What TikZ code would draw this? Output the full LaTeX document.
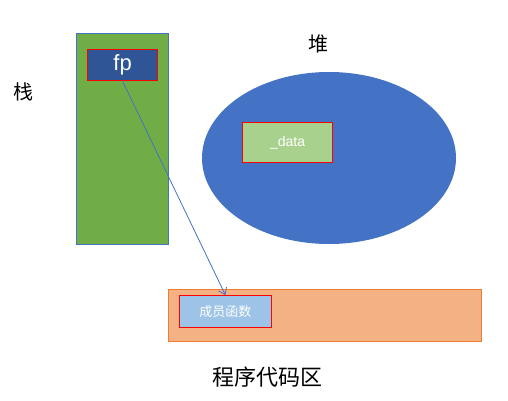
\documentclass[tikz,border=0pt]{standalone}
\usepackage{fontspec}
\setmainfont{Liberation Sans}
\newfontfamily\cjk{Noto Sans CJK SC}
\usetikzlibrary{shapes.geometric, arrows.meta}
\definecolor{colorStack}{HTML}{70AD47}
\definecolor{colorHeap}{HTML}{4472C4}
\definecolor{colorCode}{HTML}{F4B183}
\definecolor{colorCodeLine}{HTML}{ED7D31}
\definecolor{colorFp}{HTML}{2F5597}
\definecolor{colorData}{HTML}{A9D18E}
\definecolor{colorFun}{HTML}{9DC3E6}

\begin{document}
\begin{tikzpicture}[x=1pt,y=-1pt,
        inner/.style={draw=red,line width=1.2pt,text=white,inner sep=0pt,anchor=north west},
        label/.style={font=\cjk\fontsize{20}{20}\selectfont}]
        \useasboundingbox (0,0) rectangle (508,401);

        \filldraw[fill=colorStack,draw=colorHeap] (76,33) rectangle (168,244);
        \fill[colorHeap] (329,158) ellipse [x radius=127pt,y radius=86pt];
        \filldraw[fill=colorCode,draw=colorCodeLine] (168,289) rectangle (481,341);

        \node[inner,fill=colorFp,minimum width=70pt,minimum height=31pt,
              font=\fontsize{22}{22}\selectfont] (fp) at (87,49) {fp};
        \node[inner,fill=colorData,minimum width=90pt,minimum height=40pt,
              font=\fontsize{14}{14}\selectfont] (data) at (242,122) {\_data};
        \node[inner,line width=0.8pt,fill=colorFun,minimum width=92pt,minimum height=32pt,
              font=\cjk\fontsize{13}{13}\selectfont] (fun) at (179,295) {成员函数};

        \node[label] (stack) at (23,92) {栈};
        \node[label] (heap) at (318,44) {堆};
        \node[label,font=\cjk\fontsize{22}{22}\selectfont] (code) at (267,377) {程序代码区};

        \draw[-{Straight Barb[length=6pt,width=9pt]},colorHeap,line width=0.8pt] (fp.south) -- (fun.north);
    \end{tikzpicture}
\end{document}
